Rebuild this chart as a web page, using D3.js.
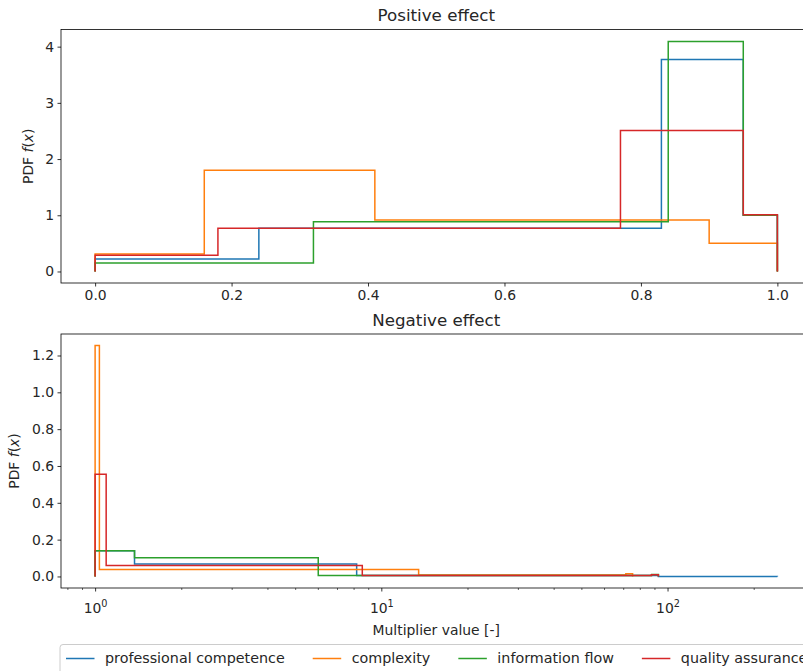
<!DOCTYPE html>
<html><head><meta charset="utf-8">
<script src="https://cdn.jsdelivr.net/npm/d3@7"></script>
<style>
html,body{margin:0;padding:0;background:#fff;overflow:hidden}
text{font-family:"DejaVu Sans",sans-serif;fill:#262626}
</style></head>
<body>
<script>
// ---------- data ----------
const seriesNames = ["professional competence", "complexity", "information flow", "quality assurance"];
const colors = ["#1f77b4", "#ff7f0e", "#2ca02c", "#d62728"];

// Positive effect: bin edges and PDF values
const posEdges = [
  [0, 0.24, 0.83, 0.95, 1.0],
  [0, 0.16, 0.41, 0.90, 1.0],
  [0, 0.32, 0.84, 0.95, 1.0],
  [0, 0.18, 0.77, 0.95, 1.0]
];
const posValues = [
  [0.22, 0.77, 3.77, 1.0],
  [0.31, 1.80, 0.915, 0.50],
  [0.15, 0.885, 4.09, 1.0],
  [0.29, 0.77, 2.51, 1.01]
];

// Negative effect: bin edges (multiplier) and PDF values
const negEdges = [
  [1, 1.373, 8.2, 92.9, 242],
  [1, 1.035, 13.5, 71.5, 75.5],
  [1, 1.373, 6.02, 88, 92.9],
  [1, 1.093, 8.58, 87.8, 92.9]
];
const negValues = [
  [0.14, 0.068, 0.0053, 0.0004],
  [1.254, 0.038, 0.0085, 0.015],
  [0.14, 0.101, 0.0055, 0.01],
  [0.555, 0.06, 0.0057, 0.0098]
];

const posXTicks = [0, 0.2, 0.4, 0.6, 0.8, 1.0];
const posYTicks = [0, 1, 2, 3, 4];
const negYTicks = [0, 0.2, 0.4, 0.6, 0.8, 1.0, 1.2];
const negXMajor = [1, 10, 100];
const negXExp = ["0", "1", "2"];
const negXMinor = [0.8, 0.9, 2, 3, 4, 5, 6, 7, 8, 9, 20, 30, 40, 50, 60, 70, 80, 90, 200, 300];

// ---------- layout ----------
const W = 803, H = 671;
const svg = d3.select("body").append("svg").attr("width", W).attr("height", H);
const FS = 13.9;

const L = 61, R = 811.5;
const top1 = 29.5, bot1 = 283;
const top2 = 334, bot2 = 588;

const x1 = d3.scaleLinear().domain([-0.05, 1.05]).range([L, R]);
const y1 = d3.scaleLinear().domain([-0.205, 4.305]).range([bot1, top1]);
const x2 = d3.scaleLog().domain([0.760, 318.4]).range([L, R]);
const y2 = d3.scaleLinear().domain([-0.0627, 1.3167]).range([bot2, top2]);

function stepPoints(edges, vals) {
  const pts = [[edges[0], 0]];
  for (let i = 0; i < vals.length; i++) pts.push([edges[i], vals[i]]);
  const n = edges.length - 1;
  pts.push([edges[n], vals[vals.length - 1]]);
  pts.push([edges[n], 0]);
  return pts;
}

function drawPanel(xs, ys, edgesArr, valsArr, top, bot) {
  const g = svg.append("g");
  const line = d3.line().x(d => xs(d[0])).y(d => ys(d[1])).curve(d3.curveStepAfter);
  edgesArr.forEach((e, i) => {
    g.append("path").attr("d", line(stepPoints(e, valsArr[i])))
      .attr("fill", "none").attr("stroke", colors[i]).attr("stroke-width", 1.5)
      .attr("stroke-linejoin", "miter").attr("stroke-linecap", "butt");
  });
  svg.append("rect").attr("x", L).attr("y", top).attr("width", R - L).attr("height", bot - top)
    .attr("fill", "none").attr("stroke", "#000").attr("stroke-width", 0.8);
}

drawPanel(x1, y1, posEdges, posValues, top1, bot1);
drawPanel(x2, y2, negEdges, negValues, top2, bot2);

// ---------- axes ----------
function styleAxis(g) {
  g.select(".domain").remove();
  g.selectAll(".tick line").attr("stroke", "#000").attr("stroke-width", 0.8);
  g.selectAll(".tick text").attr("font-size", FS).attr("fill", "#262626").attr("font-family", "DejaVu Sans");
}

svg.append("g").attr("transform", `translate(0,${bot1})`)
  .call(d3.axisBottom(x1).tickValues(posXTicks).tickFormat(d3.format(".1f")).tickSize(3.5).tickPadding(3.5))
  .call(styleAxis);
svg.append("g").attr("transform", `translate(${L},0)`)
  .call(d3.axisLeft(y1).tickValues(posYTicks).tickFormat(d3.format("d")).tickSize(3.5).tickPadding(3.5))
  .call(styleAxis);
svg.append("g").attr("transform", `translate(${L},0)`)
  .call(d3.axisLeft(y2).tickValues(negYTicks).tickFormat(d3.format(".1f")).tickSize(3.5).tickPadding(3.5))
  .call(styleAxis);

svg.append("g").attr("transform", `translate(0,${bot2})`)
  .call(d3.axisBottom(x2).tickValues(negXMinor).tickFormat("").tickSize(2))
  .call(g => { g.select(".domain").remove(); g.selectAll(".tick line").attr("stroke", "#000").attr("stroke-width", 0.6); });
const gx2 = svg.append("g").attr("transform", `translate(0,${bot2})`)
  .call(d3.axisBottom(x2).tickValues(negXMajor).tickFormat("").tickSize(3.5))
  .call(styleAxis);
gx2.selectAll(".tick").each(function(d, i) {
  const t = d3.select(this).append("text").attr("y", 25).attr("text-anchor", "middle")
    .attr("font-size", FS).attr("fill", "#262626");
  t.append("tspan").text("10");
  t.append("tspan").attr("font-size", FS * 0.7).attr("dy", -6).text(negXExp[i]);
});

// ---------- titles and labels ----------
const cx = (L + R) / 2;
svg.append("text").attr("x", cx).attr("y", 21).attr("text-anchor", "middle")
  .attr("font-size", 16.7).text("Positive effect");
svg.append("text").attr("x", cx).attr("y", 326).attr("text-anchor", "middle")
  .attr("font-size", 16.7).text("Negative effect");
svg.append("text").attr("x", cx).attr("y", 635).attr("text-anchor", "middle")
  .attr("font-size", FS).text("Multiplier value [-]");

function ylab(x, y) {
  const t = svg.append("text").attr("transform", `translate(${x},${y}) rotate(-90)`)
    .attr("text-anchor", "middle").attr("font-size", FS);
  t.append("tspan").text("PDF ");
  t.append("tspan").attr("font-style", "italic").text("f");
  t.append("tspan").text("(");
  t.append("tspan").attr("font-style", "italic").text("x");
  t.append("tspan").text(")");
}
ylab(33, (top1 + bot1) / 2);
ylab(19, (top2 + bot2) / 2);

// ---------- legend ----------
const LFS = 14.3;
const lg = svg.append("g");
const frame = lg.append("rect").attr("x", 60).attr("y", 644.5).attr("rx", 3).attr("ry", 3)
  .attr("height", 40).attr("fill", "#fff").attr("fill-opacity", 0.8)
  .attr("stroke", "#cccccc").attr("stroke-width", 1);
let lx = 66;
const ly = 658.5;
seriesNames.forEach((name, i) => {
  lg.append("line").attr("x1", lx).attr("x2", lx + 28.5).attr("y1", ly).attr("y2", ly)
    .attr("stroke", colors[i]).attr("stroke-width", 1.5);
  const t = lg.append("text").attr("x", lx + 39).attr("y", ly + 4.8).attr("font-size", LFS).text(name);
  lx = lx + 39 + t.node().getComputedTextLength() + 28;
});
frame.attr("width", lx - 60 - 20);
</script>
</body></html>
